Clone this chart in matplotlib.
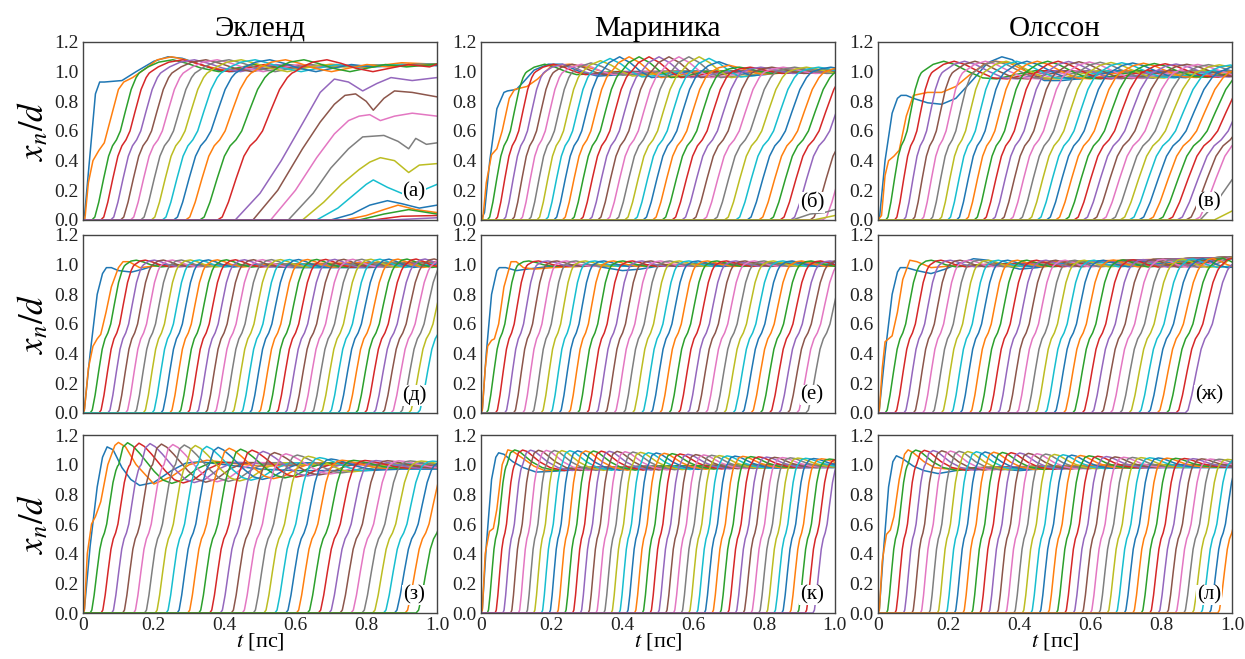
import numpy as np
import matplotlib.pyplot as plt

plt.rcParams['font.family'] = ['Liberation Serif', 'DejaVu Serif']
plt.rcParams['mathtext.fontset'] = 'stix'

titles = ['Экленд', 'Мариника', 'Олссон']
tags = ['(а)', '(б)', '(в)', '(д)', '(е)', '(ж)', '(з)', '(к)', '(л)']

# shape of one rising front: fraction of the rise time -> x_n/d
rise_u = [0, 0.06, 0.14, 0.24, 0.34, 0.42, 0.5, 0.58, 0.68, 0.8, 0.9, 0.96, 1.0]
rise_y = [0, 0.02, 0.12, 0.28, 0.43, 0.5, 0.54, 0.6, 0.73, 0.88, 0.96, 0.99, 1.0]

blue_a_t = [0, 0.005, 0.02, 0.035, 0.047, 0.06, 0.11, 0.15, 0.2, 0.24, 0.28, 0.33, 0.38, 0.42, 0.5, 0.6, 0.7, 0.8, 0.9, 1.0]
blue_a_y = [0, 0.05, 0.45, 0.85, 0.93, 0.93, 0.94, 1.0, 1.07, 1.1, 1.09, 1.05, 1.01, 1.0, 1.02, 1.03, 1.04, 1.03, 1.05, 1.04]
orange_a_t = [0, 0.005, 0.015, 0.028, 0.045, 0.06, 0.08, 0.1, 0.115, 0.14, 0.17, 0.21, 0.25, 0.29, 0.34, 0.4, 0.5, 0.6, 0.7, 0.8, 0.9, 1.0]
orange_a_y = [0, 0.0, 0.25, 0.4, 0.47, 0.52, 0.7, 0.88, 0.93, 0.96, 1.01, 1.08, 1.1, 1.08, 1.04, 1.01, 1.04, 1.02, 1.05, 1.03, 1.06, 1.05]

blue_b_t = [0, 0.01, 0.025, 0.045, 0.065, 0.075, 0.1, 0.12, 0.15, 0.19, 0.23, 0.28, 0.33, 0.4, 0.5, 0.6, 0.7, 0.8, 0.9, 1.0]
blue_b_y = [0, 0.05, 0.4, 0.75, 0.86, 0.87, 0.88, 0.93, 1.01, 1.05, 1.05, 1.0, 0.97, 0.98, 1.0, 1.0, 0.99, 1.0, 1.0, 1.0]
orange_b_t = [0, 0.005, 0.015, 0.03, 0.045, 0.06, 0.08, 0.095, 0.13, 0.16, 0.2, 0.25, 0.3, 0.36, 0.45, 0.6, 0.8, 1.0]
orange_b_y = [0, 0, 0.25, 0.44, 0.48, 0.6, 0.82, 0.88, 0.9, 0.95, 1.04, 1.05, 1.03, 0.99, 0.98, 1.0, 1.0, 1.01]

blue_v_t = [0, 0.005, 0.02, 0.04, 0.055, 0.065, 0.08, 0.1, 0.14, 0.18, 0.22, 0.27, 0.31, 0.35, 0.38, 0.42, 0.47, 0.52, 0.6, 0.7, 0.8, 0.9, 1.0]
blue_v_y = [0, 0.03, 0.4, 0.72, 0.82, 0.84, 0.84, 0.82, 0.79, 0.78, 0.82, 0.95, 1.06, 1.1, 1.08, 1.0, 0.94, 0.94, 0.96, 0.97, 0.97, 0.97, 0.98]
orange_v_t = [0, 0.01, 0.02, 0.03, 0.045, 0.06, 0.08, 0.1, 0.14, 0.18, 0.22, 0.26, 0.3, 0.33, 0.37, 0.42, 0.47, 0.55, 0.65, 0.8, 1.0]
orange_v_y = [0, 0.03, 0.3, 0.4, 0.43, 0.47, 0.7, 0.84, 0.86, 0.86, 0.9, 0.98, 1.05, 1.07, 1.06, 1.0, 0.95, 0.96, 0.99, 0.99, 1.0]

blue_d_t = [0, 0.004, 0.02, 0.04, 0.055, 0.066, 0.08, 0.1, 0.137, 0.17, 0.21, 0.3, 0.4, 0.5, 0.6, 0.7, 0.8, 0.9, 1.0]
blue_d_y = [0, 0.03, 0.4, 0.8, 0.94, 0.98, 0.98, 0.96, 0.95, 0.97, 1.0, 1.0, 0.99, 0.99, 0.98, 0.98, 0.98, 0.99, 1.0]
orange_d_t = [0, 0.004, 0.015, 0.028, 0.04, 0.05, 0.065, 0.08, 0.1, 0.113, 0.13, 0.16, 0.2, 0.3, 0.5, 0.7, 1.0]
orange_d_y = [0, 0.02, 0.3, 0.45, 0.5, 0.53, 0.68, 0.85, 0.98, 1.02, 1.02, 0.98, 0.99, 1.0, 1.0, 1.01, 1.02]

blue_e_t = [0, 0.004, 0.015, 0.03, 0.045, 0.052, 0.07, 0.1, 0.13, 0.2, 0.3, 0.35, 0.4, 0.45, 0.5, 0.7, 0.85, 1.0]
blue_e_y = [0, 0.03, 0.4, 0.8, 0.96, 0.98, 0.98, 0.96, 0.97, 0.99, 1.0, 0.98, 0.96, 0.97, 0.99, 0.99, 1.0, 1.0]
orange_e_t = [0, 0.004, 0.012, 0.019, 0.03, 0.038, 0.05, 0.065, 0.085, 0.1, 0.12, 0.15, 0.2, 0.3, 0.5, 0.75, 1.0]
orange_e_y = [0, 0.02, 0.3, 0.45, 0.49, 0.5, 0.6, 0.85, 1.02, 1.02, 0.98, 0.97, 0.98, 0.99, 1.0, 1.01, 1.02]

blue_zh_t = [0, 0.004, 0.02, 0.04, 0.055, 0.063, 0.08, 0.11, 0.15, 0.19, 0.22, 0.27, 0.31, 0.35, 0.4, 0.45, 0.5, 0.6, 0.7, 0.85, 1.0]
blue_zh_y = [0, 0.03, 0.4, 0.8, 0.95, 0.98, 0.98, 0.96, 0.94, 0.97, 1.0, 1.04, 1.03, 1.0, 0.97, 0.98, 1.0, 1.01, 1.02, 1.03, 1.04]
orange_zh_t = [0, 0.004, 0.012, 0.02, 0.03, 0.04, 0.055, 0.07, 0.09, 0.11, 0.15, 0.2, 0.3, 0.5, 0.7, 1.0]
orange_zh_y = [0, 0.02, 0.3, 0.48, 0.5, 0.52, 0.68, 0.9, 1.03, 1.02, 0.98, 0.99, 1.0, 1.02, 1.03, 1.05]

blue_z_t = [0, 0.004, 0.02, 0.04, 0.055, 0.068, 0.085, 0.11, 0.135, 0.16, 0.2, 0.25, 0.29, 0.33, 0.4, 0.5, 0.6, 0.7, 0.8, 0.9, 1.0]
blue_z_y = [0, 0.03, 0.45, 0.85, 1.05, 1.12, 1.1, 0.98, 0.9, 0.86, 0.88, 0.96, 1.01, 1.02, 1.0, 0.97, 0.96, 0.96, 0.96, 0.97, 0.97]
orange_z_t = [0, 0.004, 0.012, 0.024, 0.035, 0.05, 0.07, 0.09, 0.1, 0.12, 0.15, 0.2, 0.25, 0.3, 0.35, 0.42, 0.5, 0.7, 1.0]
orange_z_y = [0, 0.02, 0.4, 0.6, 0.65, 0.75, 1.0, 1.13, 1.15, 1.12, 1.0, 0.87, 0.92, 1.0, 1.03, 1.01, 0.99, 1.0, 1.0]

blue_k_t = [0, 0.004, 0.015, 0.03, 0.042, 0.05, 0.065, 0.09, 0.12, 0.156, 0.2, 0.3, 0.4, 0.5, 0.6, 0.8, 1.0]
blue_k_y = [0, 0.03, 0.45, 0.9, 1.05, 1.08, 1.07, 1.02, 0.98, 0.95, 0.955, 0.97, 0.97, 0.98, 0.98, 0.98, 0.98]
orange_k_t = [0, 0.004, 0.012, 0.024, 0.035, 0.045, 0.06, 0.076, 0.09, 0.12, 0.15, 0.18, 0.25, 0.35, 0.5, 0.7, 1.0]
orange_k_y = [0, 0.02, 0.4, 0.55, 0.57, 0.7, 1.0, 1.1, 1.09, 1.04, 0.99, 0.96, 0.97, 0.98, 0.99, 1.0, 1.0]

blue_l_t = [0, 0.004, 0.015, 0.03, 0.042, 0.052, 0.07, 0.1, 0.13, 0.17, 0.22, 0.28, 0.35, 0.4, 0.45, 0.55, 0.7, 0.85, 1.0]
blue_l_y = [0, 0.03, 0.4, 0.85, 1.02, 1.06, 1.04, 0.99, 0.96, 0.94, 0.96, 0.98, 0.97, 0.96, 0.97, 0.98, 0.98, 0.98, 0.98]
orange_l_t = [0, 0.004, 0.012, 0.024, 0.035, 0.045, 0.06, 0.075, 0.085, 0.1, 0.13, 0.16, 0.2, 0.3, 0.45, 0.7, 1.0]
orange_l_y = [0, 0.02, 0.35, 0.53, 0.56, 0.65, 0.9, 1.07, 1.1, 1.08, 1.02, 0.98, 0.97, 0.98, 0.99, 1.0, 1.0]

# ---- start times (ps) of the following atoms ----
onset_a = [0.025, 0.05, 0.078, 0.106, 0.134, 0.163, 0.193, 0.224, 0.256, 0.29, 0.33, 0.38]
onset_b = [0.018, 0.04, 0.063, 0.087, 0.11, 0.134, 0.158, 0.182, 0.206, 0.23, 0.255, 0.28, 0.305,
           0.33, 0.355, 0.38, 0.406, 0.432, 0.458, 0.485, 0.512, 0.54, 0.568, 0.597, 0.627, 0.657,
           0.688, 0.72, 0.752, 0.785, 0.815, 0.845, 0.875, 0.93, 0.965]
onset_v = [0.022, 0.047, 0.072, 0.097, 0.122, 0.147, 0.172, 0.197, 0.222, 0.247, 0.272, 0.297,
           0.322, 0.347, 0.372, 0.398, 0.424, 0.45, 0.476, 0.502, 0.528, 0.554, 0.58, 0.606, 0.632,
           0.658, 0.684, 0.71, 0.737, 0.764, 0.791, 0.818, 0.845, 0.87, 0.895]
onset_d = [0.02, 0.045, 0.07, 0.095, 0.12, 0.145, 0.17, 0.195, 0.22, 0.245, 0.27, 0.295, 0.32,
           0.345, 0.37, 0.395, 0.42, 0.445, 0.47, 0.495, 0.52, 0.545, 0.57, 0.595, 0.62, 0.645,
           0.67, 0.695, 0.72, 0.745, 0.77, 0.795, 0.82, 0.845, 0.87, 0.895, 0.92, 0.945]
onset_e = [0.015, 0.041, 0.067, 0.092, 0.118, 0.144, 0.17, 0.196, 0.221, 0.247, 0.273, 0.299,
           0.325, 0.35, 0.376, 0.402, 0.428, 0.454, 0.479, 0.505, 0.531, 0.557, 0.583, 0.608,
           0.634, 0.66, 0.686, 0.712, 0.737, 0.763, 0.789, 0.815, 0.841, 0.866, 0.892, 0.918]
onset_zh = [0.02, 0.047, 0.073, 0.1, 0.126, 0.153, 0.179, 0.206, 0.232, 0.259, 0.285, 0.312,
            0.338, 0.365, 0.391, 0.418, 0.444, 0.471, 0.497, 0.524, 0.55, 0.577, 0.603, 0.63,
            0.656, 0.683, 0.709, 0.736, 0.762, 0.789, 0.815, 0.842, 0.868]
onset_z = [0.02, 0.051, 0.081, 0.112, 0.143, 0.174, 0.204, 0.235, 0.266, 0.296, 0.327, 0.358,
           0.388, 0.419, 0.45, 0.481, 0.511, 0.542, 0.573, 0.603, 0.634, 0.665, 0.695, 0.726,
           0.757, 0.788, 0.818, 0.849, 0.88, 0.91, 0.941]
onset_k = [0.018, 0.04, 0.062, 0.084, 0.106, 0.128, 0.149, 0.171, 0.193, 0.215, 0.237, 0.259,
           0.281, 0.303, 0.325, 0.347, 0.368, 0.39, 0.412, 0.434, 0.456, 0.478, 0.5, 0.522, 0.544,
           0.566, 0.587, 0.609, 0.631, 0.653, 0.675, 0.697, 0.719, 0.741, 0.763, 0.785, 0.806,
           0.828, 0.85, 0.872, 0.894, 0.916, 0.938]
onset_l = [0.024, 0.048, 0.072, 0.096, 0.12, 0.144, 0.168, 0.192, 0.216, 0.24, 0.264, 0.288,
           0.312, 0.336, 0.36, 0.384, 0.408, 0.432, 0.456, 0.48, 0.504, 0.528, 0.552, 0.576, 0.6,
           0.624, 0.648, 0.672, 0.696, 0.72, 0.744, 0.768, 0.792, 0.816, 0.84, 0.864, 0.888,
           0.912, 0.936, 0.96]

# ---- atoms that never reach the top (right end of panels а, б, в) ----
tail_a_t = [[0.43, 0.5, 0.56, 0.62, 0.67, 0.71, 0.75, 0.79, 0.83, 0.87, 0.93, 1.0],
            [0.48, 0.55, 0.62, 0.67, 0.71, 0.74, 0.77, 0.8, 0.82, 0.85, 0.88, 0.93, 1.0],
            [0.53, 0.6, 0.66, 0.71, 0.75, 0.78, 0.81, 0.84, 0.88, 0.93, 1.0],
            [0.58, 0.65, 0.7, 0.75, 0.79, 0.85, 0.89, 0.92, 0.94, 0.97, 1.0],
            [0.62, 0.68, 0.73, 0.78, 0.81, 0.84, 0.88, 0.92, 0.95, 1.0],
            [0.66, 0.72, 0.77, 0.8, 0.82, 0.86, 0.91, 0.96, 1.0],
            [0.7, 0.76, 0.81, 0.86, 0.9, 0.95, 1.0],
            [0.74, 0.8, 0.85, 0.89, 0.94, 1.0],
            [0.78, 0.85, 0.92, 1.0],
            [0.82, 0.9, 1.0],
            [0.87, 1.0]]
tail_a_y = [[0, 0.18, 0.4, 0.65, 0.86, 0.95, 0.93, 0.87, 0.92, 0.96, 0.94, 0.96],
            [0, 0.2, 0.48, 0.66, 0.78, 0.84, 0.85, 0.8, 0.74, 0.82, 0.87, 0.86, 0.83],
            [0, 0.2, 0.42, 0.58, 0.67, 0.7, 0.71, 0.67, 0.7, 0.72, 0.7],
            [0, 0.18, 0.35, 0.48, 0.56, 0.57, 0.53, 0.48, 0.55, 0.51, 0.52],
            [0, 0.12, 0.24, 0.34, 0.39, 0.42, 0.4, 0.32, 0.37, 0.38],
            [0, 0.08, 0.18, 0.24, 0.27, 0.22, 0.17, 0.2, 0.24],
            [0, 0.04, 0.1, 0.13, 0.11, 0.08, 0.1],
            [0, 0.03, 0.07, 0.1, 0.07, 0.05],
            [0, 0.04, 0.07, 0.04],
            [0, 0.025, 0.03],
            [0, 0.015]]
tail_b_t = [[0.88, 0.93, 0.97, 1.0], [0.94, 1.0]]
tail_b_y = [[0, 0.04, 0.05, 0.07], [0, 0.03]]
tail_v_t = [[0.91, 0.95, 1.0], [0.95, 1.0]]
tail_v_y = [[0, 0.1, 0.27], [0, 0.06]]

# ---- rise time, overshoot size (vs start time) and ringing shape ----
dur_a = ([0, 0.2, 0.4], [0.135, 0.165, 0.225])
dur_b = ([0, 0.4, 0.8], [0.11, 0.16, 0.19])
dur_v = ([0, 0.4, 0.85], [0.1, 0.17, 0.25])
dur_d = ([0, 1], [0.1, 0.12])
dur_e = ([0, 1], [0.09, 0.12])
dur_zh = ([0, 0.5, 1], [0.1, 0.11, 0.14])
dur_z = ([0, 1], [0.08, 0.12])
dur_k = ([0, 1], [0.055, 0.07])
dur_l = ([0, 1], [0.06, 0.08])

amp_a = ([0, 1], [0.08, 0.08])
amp_b = ([0, 0.12, 0.2, 0.42, 0.5, 1.0], [0.05, 0.05, 0.1, 0.1, 0.03, 0.03])
amp_v = ([0, 0.3, 0.6, 1.0], [0.07, 0.07, 0.05, 0.03])
amp_d = ([0, 1], [0.03, 0.04])
amp_e = ([0, 1], [0.025, 0.025])
amp_zh = ([0, 0.5, 1], [0.03, 0.03, 0.05])
amp_z = ([0, 0.2, 0.35, 0.5, 0.6, 1.0], [0.15, 0.13, 0.1, 0.06, 0.03, 0.02])
amp_k = ([0, 0.3, 0.6, 1.0], [0.1, 0.09, 0.06, 0.03])
amp_l = ([0, 0.3, 0.6, 1.0], [0.1, 0.08, 0.05, 0.03])

osc_a = ([0.02, 0.05, 0.09, 0.13, 0.17, 0.22, 0.27, 0.32, 0.38], [0.4, 0.8, 1.0, 0.7, 0.3, 0.0, 0.3, 0.6, 0.4])
osc_b = ([0.02, 0.05, 0.08, 0.11, 0.14, 0.18, 0.24], [0.6, 1.0, 0.6, 0.0, -0.4, -0.3, 0.0])
osc_v = ([0.03, 0.06, 0.09, 0.13, 0.17, 0.21, 0.26, 0.32], [0.7, 1.0, 0.7, 0.0, -0.6, -0.7, -0.3, 0.1])
osc_mid = ([0.015, 0.03, 0.05, 0.07, 0.1, 0.14], [0.8, 1.0, 0.6, 0.0, -0.5, -0.2])
osc_z = ([0.012, 0.025, 0.04, 0.06, 0.08, 0.1, 0.125, 0.15, 0.18, 0.22, 0.26, 0.3],
         [0.8, 1.0, 0.85, 0.5, 0.1, -0.3, -0.7, -0.85, -0.7, -0.2, 0.1, 0.1])
osc_kl = ([0.01, 0.022, 0.035, 0.05, 0.07, 0.1, 0.14, 0.19], [0.8, 1.0, 0.9, 0.6, 0.2, -0.2, -0.4, -0.2])

plat_a = ([0.8, 1.0], [1.04, 1.05])
plat_b = ([0.5, 1.0], [1.0, 1.01])
plat_v = ([0.6, 1.0], [1.0, 1.0])
plat_d = ([0.5, 1.0], [1.0, 1.01])
plat_e = ([0.6, 1.0], [1.0, 1.02])
plat_zh = ([0.3, 0.6, 1.0], [1.0, 1.02, 1.05])
plat_z = ([0.6, 1.0], [1.0, 1.0])
plat_kl = ([0.5, 1.0], [0.99, 1.0])

panels = [
    dict(first=[(blue_a_t, blue_a_y), (orange_a_t, orange_a_y)], on=onset_a, dur=dur_a, amp=amp_a,
         osc=osc_a, plat=plat_a, tail=(tail_a_t, tail_a_y)),
    dict(first=[(blue_b_t, blue_b_y), (orange_b_t, orange_b_y)], on=onset_b, dur=dur_b, amp=amp_b,
         osc=osc_b, plat=plat_b, tail=(tail_b_t, tail_b_y)),
    dict(first=[(blue_v_t, blue_v_y), (orange_v_t, orange_v_y)], on=onset_v, dur=dur_v, amp=amp_v,
         osc=osc_v, plat=plat_v, tail=(tail_v_t, tail_v_y)),
    dict(first=[(blue_d_t, blue_d_y), (orange_d_t, orange_d_y)], on=onset_d, dur=dur_d, amp=amp_d,
         osc=osc_mid, plat=plat_d, tail=([], [])),
    dict(first=[(blue_e_t, blue_e_y), (orange_e_t, orange_e_y)], on=onset_e, dur=dur_e, amp=amp_e,
         osc=osc_mid, plat=plat_e, tail=([], [])),
    dict(first=[(blue_zh_t, blue_zh_y), (orange_zh_t, orange_zh_y)], on=onset_zh, dur=dur_zh, amp=amp_zh,
         osc=osc_mid, plat=plat_zh, tail=([], [])),
    dict(first=[(blue_z_t, blue_z_y), (orange_z_t, orange_z_y)], on=onset_z, dur=dur_z, amp=amp_z,
         osc=osc_z, plat=plat_z, tail=([], [])),
    dict(first=[(blue_k_t, blue_k_y), (orange_k_t, orange_k_y)], on=onset_k, dur=dur_k, amp=amp_k,
         osc=osc_kl, plat=plat_kl, tail=([], [])),
    dict(first=[(blue_l_t, blue_l_y), (orange_l_t, orange_l_y)], on=onset_l, dur=dur_l, amp=amp_l,
         osc=osc_kl, plat=plat_kl, tail=([], [])),
]


def front(t0, p):
    d = np.interp(t0, *p['dur'])
    a = np.interp(t0, *p['amp'])
    t = [0.0, t0] + [t0 + u * d for u in rise_u[1:]]
    y = [0.0, 0.0] + rise_y[1:]
    top = t[-1]
    t += [top + dt for dt in p['osc'][0]]
    y += [1.0 + a * v for v in p['osc'][1]]
    for pt, py in zip(*p['plat']):
        if pt > t[-1]:
            t.append(pt)
            y.append(py)
    if t[-1] < 1.0:
        t.append(1.0)
        y.append(y[-1])
    return t, y


fig = plt.figure(figsize=(12.45, 6.59), dpi=100)
lefts = [0.0667, 0.3863, 0.7052]
bottoms = [0.6662, 0.3733, 0.0698]
w, h = 0.2843, 0.2701

for k, p in enumerate(panels):
    r, c = divmod(k, 3)
    ax = fig.add_axes([lefts[c], bottoms[r], w, h])
    for tt, yy in p['first']:
        ax.plot(tt, yy, lw=1.1)
    for t0 in p['on']:
        tt, yy = front(t0, p)
        ax.plot(tt, yy, lw=1.1)
    for tt, yy in zip(*p['tail']):
        ax.plot([0.0] + tt, [0.0] + yy, lw=1.1)

    ax.set_xlim(0, 1)
    ax.set_ylim(0, 1.2)
    ax.set_yticks(np.arange(0, 1.21, 0.2))
    ax.set_yticklabels([f'{v:.1f}' for v in np.arange(0, 1.21, 0.2)])
    ax.set_xticks([0, 0.2, 0.4, 0.6, 0.8, 1.0])
    if r == 2:
        ax.set_xticklabels(['0', '0.2', '0.4', '0.6', '0.8', '1.0'])
        ax.set_xlabel('$t$ [пс]', fontsize=16, labelpad=-2)
    else:
        ax.set_xticklabels([])
    ax.tick_params(length=0, labelsize=14, pad=3, colors='#222222')
    for s in ax.spines.values():
        s.set_color('#444444')
        s.set_linewidth(1.0)
    if c == 0:
        ax.set_ylabel('$x_n/d$', fontsize=25, labelpad=2)
    if r == 0:
        ax.set_title(titles[c], fontsize=21, pad=4)
    ty = 0.16 if k == 0 else 0.1
    ax.text(0.935, ty, tags[k], transform=ax.transAxes, fontsize=15, ha='center', va='center',
            bbox=dict(facecolor='white', edgecolor='none', pad=0.5))

fig.savefig('out.png', dpi=100)
